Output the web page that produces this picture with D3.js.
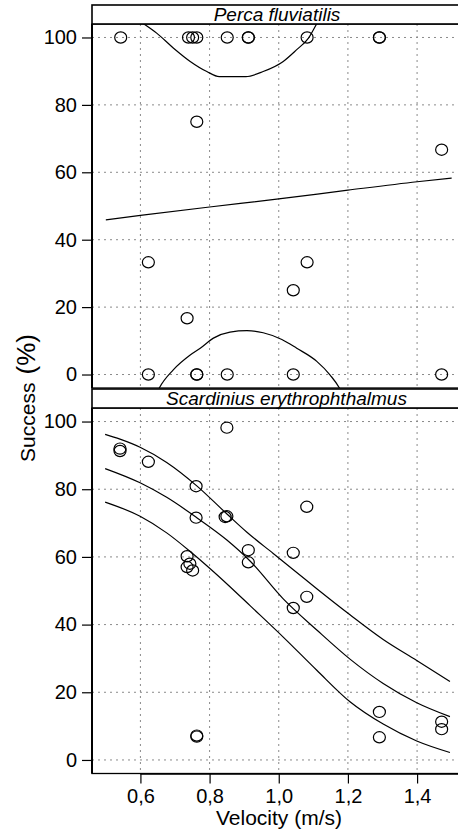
<!DOCTYPE html>
<html><head><meta charset="utf-8">
<script src="https://cdn.jsdelivr.net/npm/d3@7"></script>
<style>
html,body{margin:0;padding:0;background:#fff;}
svg{display:block;font-family:"Liberation Sans",Arial,sans-serif;}
</style></head>
<body>
<svg id="chart" width="458" height="832"></svg>
<script>
// ---- data ----
const xTicks = [0.6, 0.8, 1.0, 1.2, 1.4];
const xTickLabels = ["0,6", "0,8", "1,0", "1,2", "1,4"];
const yTicks = [0, 20, 40, 60, 80, 100];

const percaV = [0.543,0.739,0.751,0.763,0.851,0.912,0.912,1.082,1.291,1.291,0.763,1.471,0.623,1.082,1.042,0.735,0.623,0.763,0.763,0.851,1.042,1.471];
const percaS = [100,100,100,100,100,100,100,100,100,100,75,66.7,33.3,33.3,25,16.7,0,0,0,0,0,0];

const scardV = [0.541,0.541,0.623,0.761,0.850,0.761,0.850,0.845,1.081,0.912,0.912,1.042,0.735,0.743,0.735,0.751,1.081,1.042,1.291,1.291,1.471,1.471,0.763,0.763];
const scardS = [92.0,91.3,88.1,80.9,98.2,71.6,72.0,71.8,74.8,62.0,58.4,61.2,60.2,58.0,57.0,56.0,48.2,44.9,14.2,6.7,11.3,9.1,6.9,7.2];

const percaFitV = [0.5,0.6,0.8,1.0,1.2,1.4,1.5];
const percaFit  = [45.9,47.2,49.7,52.1,54.7,57.2,58.3];
const percaUpV = [0.581,0.609,0.647,0.695,0.744,0.792,0.828,0.905,0.955,1.013,1.052,1.086,1.110,1.121];
const percaUp  = [106,104.1,101.3,96.9,92.9,89.9,88.4,88.4,89.9,92.9,96.4,99.8,104.1,106];
const percaLoV = [0.645,0.655,0.695,0.744,0.773,0.811,0.859,0.908,0.955,1.009,1.052,1.110,1.148,1.177,1.185];
const percaLo  = [-6,-3.9,1.4,5.8,7.8,10.8,12.6,13.0,12.4,10.4,7.8,3.9,-0.1,-4.3,-6];

const scardUpV = [0.498,0.541,0.599,0.676,0.763,0.851,0.908,0.984,1.052,1.110,1.206,1.302,1.399,1.495];
const scardUp  = [96.2,94.8,92.4,87.9,81.0,72.6,67.3,61.0,55.4,50.6,42.9,35.6,29.4,23.2];
const scardFitV = [0.498,0.599,0.676,0.763,0.850,0.917,1.013,1.110,1.206,1.302,1.399,1.495];
const scardFit  = [86.1,81.9,77.6,71.6,65.0,58.8,47.6,38.4,29.8,22.6,16.9,12.8];
const scardLoV = [0.498,0.599,0.676,0.744,0.792,0.859,0.917,1.013,1.110,1.206,1.302,1.399,1.495];
const scardLo  = [76.2,72.0,67.1,61.6,57.4,51.2,45.6,36.3,26.5,17.2,10.6,5.6,2.2];

const panelNames = ["Perca fluviatilis", "Scardinius erythrophthalmus"];

// ---- layout ----
const svg = d3.select("#chart");
const L = 92, R = 465.5;
const x = d3.scaleLinear().domain([0.46, 1.54]).range([L, R]);
const zip = (a, b) => a.map((v, i) => [v, b[i]]);

const panels = [
  {name: panelNames[0], stripTop: 5, top: 24, bottom: 388, textX: 277,
   pts: zip(percaV, percaS),
   curves: [zip(percaFitV, percaFit), zip(percaUpV, percaUp), zip(percaLoV, percaLo)]},
  {name: panelNames[1], stripTop: 389, top: 408, bottom: 773.5, textX: 286.5,
   pts: zip(scardV, scardS),
   curves: [zip(scardFitV, scardFit), zip(scardUpV, scardUp), zip(scardLoV, scardLo)]}
];

panels.forEach((p, i) => {
  const y = d3.scaleLinear().domain([-4, 104]).range([p.bottom, p.top]);
  const g = svg.append("g");
  const cid = "clip" + i;
  svg.append("clipPath").attr("id", cid).append("rect")
    .attr("x", L).attr("y", p.top).attr("width", R - L).attr("height", p.bottom - p.top);

  // grid
  g.selectAll(".vg").data(xTicks).join("line")
    .attr("x1", d => x(d)).attr("x2", d => x(d)).attr("y1", p.top).attr("y2", p.bottom)
    .attr("stroke", "#8a8a8a").attr("stroke-width", 1).attr("stroke-dasharray", "2,4");
  g.selectAll(".hg").data(yTicks).join("line")
    .attr("x1", L).attr("x2", R).attr("y1", d => y(d)).attr("y2", d => y(d))
    .attr("stroke", "#8a8a8a").attr("stroke-width", 1).attr("stroke-dasharray", "2,4");

  // curves
  const line = d3.line().curve(d3.curveMonotoneX).x(d => x(d[0])).y(d => y(d[1]));
  g.append("g").attr("clip-path", `url(#${cid})`).selectAll("path").data(p.curves).join("path")
    .attr("d", line).attr("fill", "none").attr("stroke", "#000").attr("stroke-width", 1.2);

  // points
  g.selectAll("ellipse").data(p.pts).join("ellipse")
    .attr("cx", d => x(d[0])).attr("cy", d => y(d[1]))
    .attr("rx", 6).attr("ry", 5.6)
    .attr("fill", "none").attr("stroke", "#000").attr("stroke-width", 1.2);

  // panel border
  g.append("rect").attr("x", L).attr("y", p.top).attr("width", R - L).attr("height", p.bottom - p.top)
    .attr("fill", "none").attr("stroke", "#000").attr("stroke-width", 1.3);
  g.append("line").attr("x1", L).attr("x2", L).attr("y1", p.top).attr("y2", p.bottom)
    .attr("stroke", "#000").attr("stroke-width", 2);

  // strip
  g.append("rect").attr("x", L).attr("y", p.stripTop).attr("width", R - L).attr("height", p.top - p.stripTop)
    .attr("fill", "#fff").attr("stroke", "#000").attr("stroke-width", 1.6);
  g.append("text").attr("x", p.textX).attr("y", p.top - 3)
    .attr("text-anchor", "middle").attr("font-style", "italic").attr("font-size", 19)
    .text(p.name);

  // y axis
  const yAxis = d3.axisLeft(y).tickValues(yTicks).tickSize(10).tickSizeOuter(0).tickPadding(5);
  const ga = g.append("g").attr("transform", `translate(${L},0)`).call(yAxis);
  ga.select(".domain").remove();
  ga.selectAll("line").attr("stroke", "#000").attr("stroke-width", 1.2);
  ga.selectAll("text").attr("font-size", 20).attr("fill", "#000")
    .attr("font-family", "'Liberation Sans', Arial, sans-serif");

  if (i === 1) {
    const xAxis = d3.axisBottom(x).tickValues(xTicks).tickFormat((d, k) => xTickLabels[k])
      .tickSize(10).tickSizeOuter(0).tickPadding(5);
    const gx = g.append("g").attr("transform", `translate(0,${p.bottom})`).call(xAxis);
    gx.select(".domain").attr("d", `M${x(0.6)},0.5H${R}`).attr("stroke", "#000").attr("stroke-width", 1.5);
    gx.selectAll("line").attr("stroke", "#000").attr("stroke-width", 1.2);
    gx.selectAll("text").attr("font-size", 20).attr("fill", "#000")
      .attr("font-family", "'Liberation Sans', Arial, sans-serif");
  }
});

// axis titles
svg.append("text").attr("x", 279).attr("y", 825).attr("text-anchor", "middle")
  .attr("font-size", 21).text("Velocity (m/s)");
const yl = svg.append("text").attr("transform", "translate(35,398) rotate(-90)")
  .attr("text-anchor", "middle");
yl.append("tspan").attr("font-size", 21).text("Success");
yl.append("tspan").attr("font-size", 26).attr("dx", 8).text("(%)");
</script>
</body></html>
